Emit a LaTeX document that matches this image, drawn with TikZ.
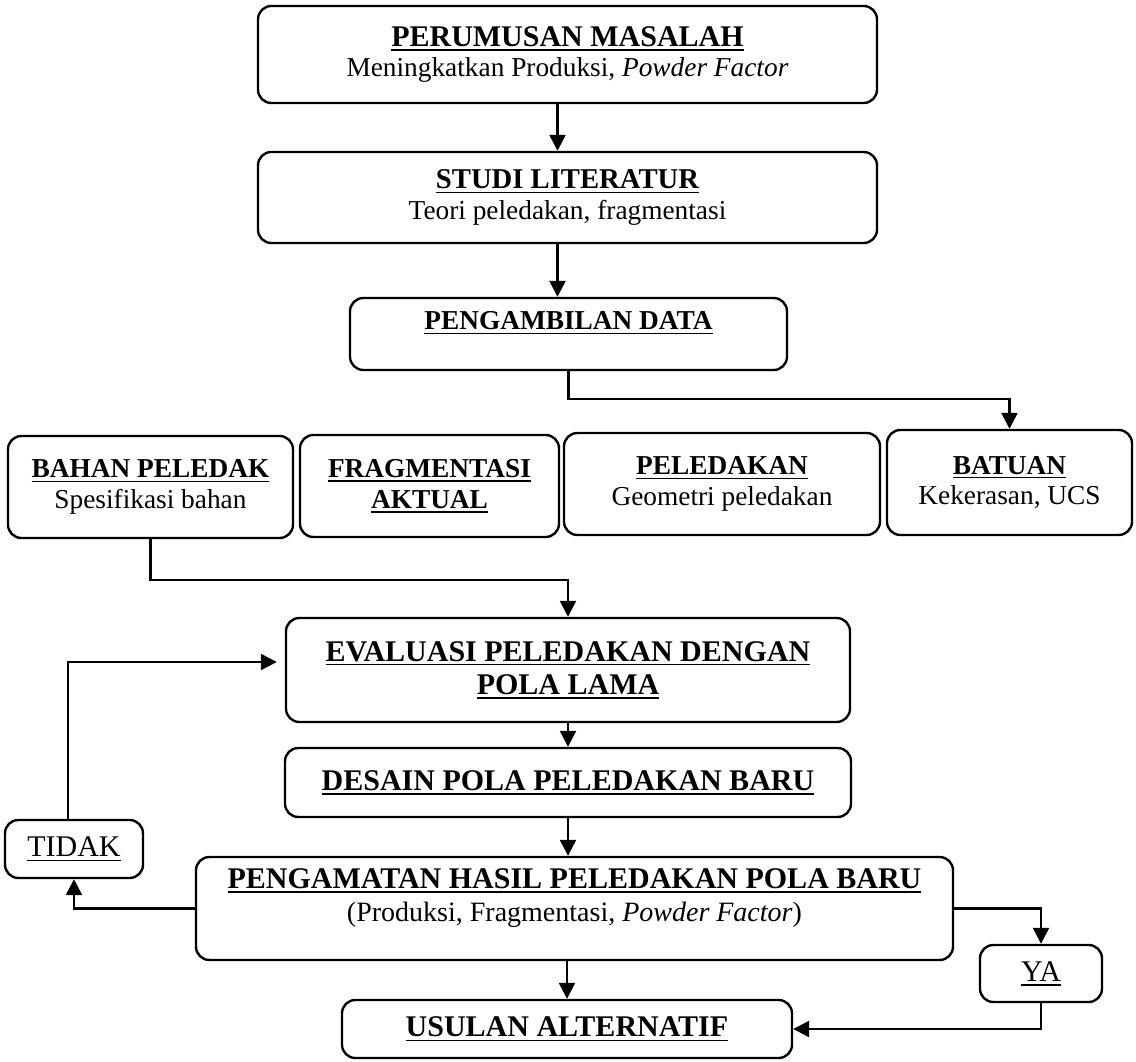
\documentclass[tikz,border=0pt]{standalone}
\usepackage{fontspec}
\setmainfont{Liberation Serif}
\usepackage{tikz}
\usetikzlibrary{arrows.meta}
\newcommand{\garis}[1]{\setbox0\hbox{#1}\rlap{\rule[-3.3pt]{\wd0}{1.2pt}}\box0}
\newcommand{\judulbesar}{\fontsize{22.5}{25}\selectfont}

\begin{document}
\begin{tikzpicture}[
  x=0.75pt, y=-0.75pt,
  box/.style={
    draw, line width=1.8pt, rounded corners=10pt,
    align=center, inner sep=0pt,
    font=\fontsize{20.5}{23}\selectfont
  },
  besar/.style={font=\fontsize{22.5}{25}\selectfont},
  ukuran/.style 2 args={
    minimum width=#1*0.75pt, minimum height=#2*0.75pt
  },
  arr/.style={-{Triangle[length=12pt,width=12pt]}, line width=1.8pt}
]
  \useasboundingbox (0,0) rectangle (1136,1062);

  \node[box, ukuran={619}{97}] (masalah) at (567.5,54.5)
    {{\judulbesar\textbf{\garis{PERUMUSAN MASALAH}}}\\Meningkatkan Produksi, \textit{Powder Factor}};
  \node[box, ukuran={619}{91}] (studi) at (567.5,197.5)
    {{\fontsize{21.5}{23}\selectfont\textbf{\garis{STUDI LITERATUR}}}\\Teori peledakan, fragmentasi};
  \node[box, ukuran={437}{72}] (data) at (568.5,334)
    {\textbf{\garis{PENGAMBILAN DATA}}\\[-3pt]\mbox{}};

  \node[box, ukuran={285}{102}] (bahan) at (150.5,487)
    {\textbf{\garis{BAHAN PELEDAK}}\\Spesifikasi bahan};
  \node[box, ukuran={259}{102}] (fragmen) at (429.5,486)
    {\textbf{\garis{FRAGMENTASI}}\\\textbf{\garis{AKTUAL}}};
  \node[box, ukuran={316}{102}] (ledak) at (722,484)
    {\textbf{\garis{PELEDAKAN}}\\Geometri peledakan};
  \node[box, ukuran={245}{105}] (batuan) at (1009.5,482.5)
    {\textbf{\garis{BATUAN}}\\Kekerasan, UCS};

  \node[box, besar, ukuran={564}{104}] (evaluasi) at (568,670)
    {\textbf{\garis{EVALUASI PELEDAKAN DENGAN}}\\\textbf{\garis{POLA LAMA}}};
  \node[box, besar, ukuran={566}{69}] (desain) at (568,782.5)
    {\textbf{\garis{DESAIN POLA PELEDAKAN BARU}}};
  \node[box, besar, ukuran={138}{58}] (tidak) at (74,849) {\garis{TIDAK}};
  \node[box, besar, ukuran={757}{103}] (amatan) at (574.5,908.5)
    {\textbf{\garis{PENGAMATAN HASIL PELEDAKAN POLA BARU}}\\{\fontsize{21}{24}\selectfont(Produksi, Fragmentasi, \textit{Powder Factor})}\\[-4.5pt]\mbox{}};
  \node[box, besar, ukuran={122}{57}] (ya) at (1041,973.5) {\garis{YA}};
  \node[box, besar, ukuran={450}{58}] (usulan) at (567,1029)
    {\textbf{\garis{USULAN ALTERNATIF}}};

  \draw[arr] ([xshift=-7.5pt]masalah.south) -- ([xshift=-7.5pt]studi.north);
  \draw[arr] ([xshift=-7.5pt]studi.south) -- ([xshift=-7.5pt]studi.south |- data.north);
  \draw[arr] (data.south) -- ++(0,28) -| (batuan.north);
  \draw[arr] (bahan.south) -- ++(0,41) -| (evaluasi.north);
  \draw[arr] (evaluasi.south) -- (desain.north);
  \draw[arr] (desain.south) -- (desain.south |- amatan.north);
  \draw[arr] (usulan.north |- amatan.south) -- (usulan.north);
  \draw[arr] (amatan.west) -| (tidak.south);
  \draw[arr, shorten >=6pt] ([xshift=-4.5pt]tidak.north) |- ([yshift=6pt]evaluasi.west);
  \draw[arr] (amatan.east) -| (ya.north);
  \draw[arr] (ya.south) |- (usulan.east);
\end{tikzpicture}
\end{document}
